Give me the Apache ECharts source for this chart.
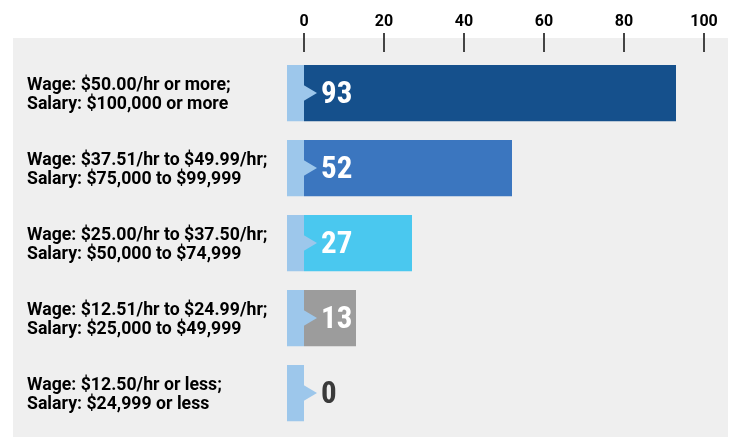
<!DOCTYPE html>
<html>
<head>
<meta charset="utf-8">
<script src="https://cdn.jsdelivr.net/npm/echarts@6/dist/echarts.min.js"></script>
<style>
  html, body { margin: 0; padding: 0; background: #ffffff; }
  #chart { width: 730px; height: 437px; }
</style>
</head>
<body>
<div id="chart"></div>
<script>
// Pay bands, top to bottom
const categories = [
  'Wage: $50.00/hr or more;\nSalary: $100,000 or more',
  'Wage: $37.51/hr to $49.99/hr;\nSalary: $75,000 to $99,999',
  'Wage: $25.00/hr to $37.50/hr;\nSalary: $50,000 to $74,999',
  'Wage: $12.51/hr to $24.99/hr;\nSalary: $25,000 to $49,999',
  'Wage: $12.50/hr or less;\nSalary: $24,999 or less'
];
const values = [93, 52, 27, 13, 0];
const barColors = ['#15508c', '#3b76bf', '#4ac8ef', '#9c9c9c', '#9c9c9c'];
const tickValues = [0, 20, 40, 60, 80, 100];

const TEXT_FONT = 'Roboto, "Liberation Sans", sans-serif';
const VALUE_FONT = '"Roboto Condensed", Roboto, "DejaVu Sans Condensed", sans-serif';

const chart = echarts.init(document.getElementById('chart'), null, { renderer: 'canvas' });

const barData = values.map((v, i) => ({
  value: v,
  itemStyle: { color: barColors[i] },
  label: { color: v === 0 ? '#3a3a3a' : '#ffffff' }
}));

chart.setOption({
  animation: false,
  backgroundColor: '#ffffff',
  graphic: [{
    type: 'rect',
    z: -10,
    shape: { x: 13, y: 38, width: 715, height: 399 },
    style: { fill: '#efefef' },
    silent: true
  }],
  grid: { left: 304, right: 26, top: 55.5, bottom: 6.5, containLabel: false },
  xAxis: {
    type: 'value',
    position: 'top',
    min: 0,
    max: 100,
    interval: 20,
    offset: 3.5,
    axisLine: { show: false },
    axisTick: { show: true, length: 19, lineStyle: { color: '#444444', width: 2 } },
    splitLine: { show: false },
    axisLabel: {
      margin: 22,
      color: '#000000',
      fontFamily: TEXT_FONT,
      fontWeight: 'bold',
      fontSize: 16,
      formatter: v => (tickValues.indexOf(v) >= 0 ? String(v) : '')
    }
  },
  yAxis: {
    type: 'category',
    inverse: true,
    data: categories,
    axisLine: { show: false },
    axisTick: { show: false },
    axisLabel: {
      align: 'left',
      margin: 277,
      color: '#000000',
      // a thin spacer line on top nudges the two text lines slightly down
      formatter: v => '{s| }\n' + v.split('\n').map(s => '{t|' + s + '}').join('\n'),
      rich: {
        s: { fontSize: 4, lineHeight: 4 },
        t: {
          fontFamily: TEXT_FONT,
          fontWeight: 'bold',
          fontSize: 17.7,
          lineHeight: 19.5,
          color: '#000000'
        }
      }
    }
  },
  series: [
    {
      type: 'bar',
      data: barData,
      barWidth: '75%',
      z: 2,
      label: {
        show: true,
        position: 'insideLeft',
        distance: 17,
        offset: [0, 2],
        fontFamily: VALUE_FONT,
        fontWeight: 'bold',
        fontSize: 31,
        formatter: p => String(p.value)
      }
    },
    {
      // light-blue tab with arrow at the start of every row
      type: 'custom',
      z: 3,
      silent: true,
      data: values.map((v, i) => [0, i]),
      encode: { x: 0, y: 1 },
      renderItem: function (params, api) {
        const p = api.coord([0, api.value(1)]);
        const band = api.size([0, 1])[1];
        const h = band * 0.75;
        const color = '#9dc7eb';
        return {
          type: 'group',
          children: [
            {
              type: 'rect',
              shape: { x: p[0] - 17, y: p[1] - h / 2, width: 17, height: h },
              style: { fill: color }
            },
            {
              type: 'polygon',
              shape: { points: [[p[0] - 0.5, p[1] - 8], [p[0] + 13, p[1]], [p[0] - 0.5, p[1] + 8]] },
              style: { fill: color }
            }
          ]
        };
      }
    }
  ]
});
</script>
</body>
</html>
